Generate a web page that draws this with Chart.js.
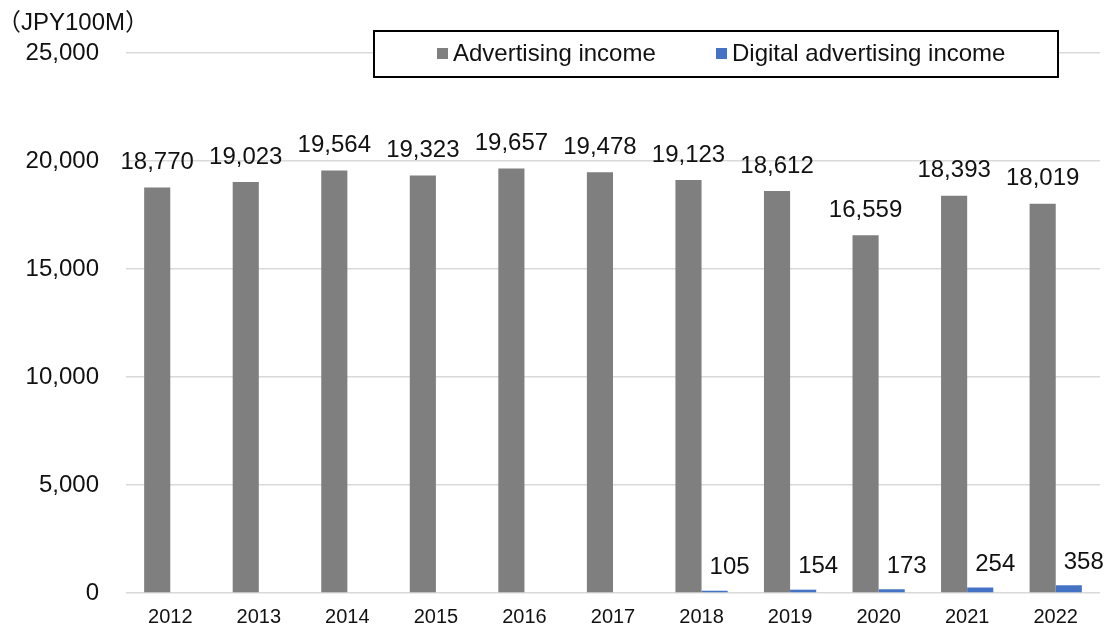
<!DOCTYPE html>
<html>
<head>
<meta charset="utf-8">
<script src="https://cdn.jsdelivr.net/npm/chart.js@4"></script>
<style>
  html, body { margin: 0; padding: 0; background: #fff; }
  #wrap { width: 1110px; height: 628px; }
</style>
</head>
<body>
<div id="wrap"><canvas id="myChart" width="1110" height="628"></canvas></div>
<script>
const years = ['2012', '2013', '2014', '2015', '2016', '2017', '2018', '2019', '2020', '2021', '2022'];
const adIncome = [18770, 19023, 19564, 19323, 19657, 19478, 19123, 18612, 16559, 18393, 18019];
const digitalIncome = [null, null, null, null, null, null, 105, 154, 173, 254, 358];
const yTicks = [0, 5000, 10000, 15000, 20000, 25000];
const unitLabel = '（JPY100M）';

const FONT = '"Liberation Sans", Arial, "Noto Sans CJK JP", sans-serif';
const fmt = v => v.toLocaleString('en-US');

// value labels over each bar
const valueLabels = {
  id: 'valueLabels',
  afterDatasetsDraw(chart) {
    const ctx = chart.ctx;
    ctx.save();
    ctx.font = '24px ' + FONT;
    ctx.fillStyle = '#111';
    ctx.textAlign = 'center';
    ctx.textBaseline = 'middle';
    chart.data.datasets.forEach((ds, i) => {
      const meta = chart.getDatasetMeta(i);
      meta.data.forEach((bar, j) => {
        const v = ds.data[j];
        if (v == null) return;
        const dx = i === 0 ? 0 : 15;
        const dy = i === 0 ? 25 : 23;
        ctx.fillText(fmt(v), bar.x + dx, bar.y - dy);
      });
    });
    ctx.restore();
  }
};

// unit caption + boxed legend sitting on top of the plot
const decorations = {
  id: 'decorations',
  afterDraw(chart) {
    const ctx = chart.ctx;
    ctx.save();
    ctx.font = '24px ' + FONT;
    ctx.fillStyle = '#111';
    ctx.textBaseline = 'middle';
    ctx.textAlign = 'left';
    ctx.fillText(unitLabel, -3, 23);

    const box = { x: 374, y: 31, w: 684, h: 46 };
    ctx.fillStyle = '#fff';
    ctx.fillRect(box.x, box.y, box.w, box.h);
    ctx.lineWidth = 2;
    ctx.strokeStyle = '#000';
    ctx.strokeRect(box.x, box.y, box.w, box.h);

    const items = [{ x: 437 }, { x: 716 }];
    chart.data.datasets.forEach((ds, i) => {
      const it = items[i];
      ctx.fillStyle = ds.backgroundColor;
      ctx.fillRect(it.x, 48, 11, 11);
      ctx.fillStyle = '#111';
      ctx.fillText(ds.label, it.x + 16, 54);
    });
    ctx.restore();
  }
};

const ctx = document.getElementById('myChart').getContext('2d');
new Chart(ctx, {
  type: 'bar',
  data: {
    labels: years,
    datasets: [
      {
        label: 'Advertising income',
        data: adIncome,
        backgroundColor: '#7f7f7f',
        categoryPercentage: 0.59,
        barPercentage: 1.0
      },
      {
        label: 'Digital advertising income',
        data: digitalIncome,
        backgroundColor: '#4472c4',
        categoryPercentage: 0.59,
        barPercentage: 1.0
      }
    ]
  },
  options: {
    responsive: false,
    animation: false,
    layout: { padding: { top: 53, right: 10, left: 0, bottom: 0 } },
    plugins: {
      legend: { display: false },
      tooltip: { enabled: false }
    },
    scales: {
      x: {
        afterFit: scale => { scale.height = 35; },
        grid: { display: false, drawTicks: false },
        border: { display: false },
        ticks: {
          color: '#111',
          font: { size: 20, family: FONT },
          padding: 12
        }
      },
      y: {
        min: 0,
        max: 25000,
        afterBuildTicks: scale => { scale.ticks = yTicks.map(v => ({ value: v })); },
        afterFit: scale => {
          scale.width = 126;
          scale.paddingTop = 0;
          scale.paddingBottom = 0;
        },
        grid: { color: '#d9d9d9', lineWidth: 1.5, drawTicks: false },
        border: { display: false },
        ticks: {
          color: '#111',
          font: { size: 24, family: FONT },
          padding: 27,
          callback: v => fmt(v)
        }
      }
    }
  },
  plugins: [valueLabels, decorations]
});
</script>
</body>
</html>
